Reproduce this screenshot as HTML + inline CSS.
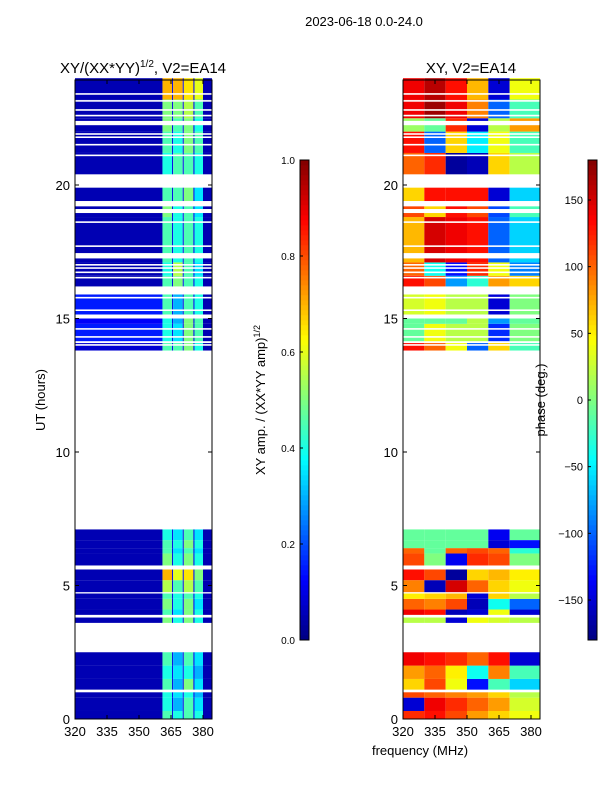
<!DOCTYPE html>
<html><head><meta charset="utf-8"><style>
body{margin:0;background:#fff;width:600px;height:800px;overflow:hidden;font-family:"Liberation Sans",sans-serif}
svg text{font-family:"Liberation Sans",sans-serif}
</style></head><body>
<svg id="fig" width="600" height="800" xmlns="http://www.w3.org/2000/svg">
<text x="364" y="26" font-size="13" text-anchor="middle">2023-06-18 0.0-24.0</text>
<text x="143" y="73" font-size="15" text-anchor="middle">XY/(XX*YY)<tspan font-size="10" dy="-6">1/2</tspan><tspan dy="6">, V2=EA14</tspan></text>
<text x="471" y="73" font-size="15" text-anchor="middle">XY, V2=EA14</text>
<text x="45" y="400" font-size="13" text-anchor="middle" transform="rotate(-90 45 400)">UT (hours)</text>
<text x="420" y="755" font-size="13" text-anchor="middle">frequency (MHz)</text>
<text x="265" y="400" font-size="13" text-anchor="middle" transform="rotate(-90 265 400)">XY amp. / (XX*YY amp)<tspan font-size="9" dy="-5">1/2</tspan></text>
<text x="545" y="400" font-size="13" text-anchor="middle" transform="rotate(-90 545 400)">phase (deg.)</text>
<g id="left"></g>
<g id="right"></g>
<g id="cb"></g>
<g id="axes"></g>
</svg>
<script>
// time segments [start hour, end hour]
const segStart=[0,0.3,0.8,1.1,1.5,2.0,3.6,3.9,4.1,4.5,4.75,5.2,5.75,6.2,6.4,6.7,13.8,14.15,14.8,15.15,16.2,16.6,17.1,18.8,19.4,20.3,21.2,22.0,22.5,23.2];
const segEnd=[0.3,0.8,1.0,1.5,2.0,2.5,3.8,4.1,4.5,4.7,5.2,5.6,6.2,6.4,6.7,7.1,14.1,14.8,15.0,15.9,16.6,17.1,18.8,19.2,20.0,21.2,22.0,22.5,23.2,24];
// phase bands (MHz edges) and values (deg)
const phaseBands=[320,330,340,350,360,370,384.2];
const phaseVals=[
[120,130,110,80,60,40],[-150,140,120,100,80,30],[110,100,90,80,60,20],[60,110,40,-130,-20,-60],
[80,100,50,-40,90,-20],[140,130,120,100,130,-150],[20,20,-150,40,30,20],[140,130,-160,-150,40,-150],
[100,90,110,-160,-40,-100],[50,60,70,-150,60,20],[90,-160,150,100,60,40],[130,110,-170,60,70,50],
[110,0,-140,120,110,0],[100,-10,100,110,100,-30],[-10,-10,-10,-10,-150,-130],[-10,-10,-10,-10,-140,-10],
[130,100,40,-100,60,-20],[-10,40,20,20,-120,0],[-10,-10,-10,20,-80,-10],[30,40,20,20,-150,0],
[130,110,-80,-30,80,60],[100,-40,-130,120,40,-90],[70,150,140,130,-100,-60],[110,60,130,110,-110,-20],
[60,130,130,130,-150,-60],[100,120,-170,-160,60,20],[130,-100,60,-50,40,-20],[10,-10,120,-150,20,80],
[140,170,140,90,-100,-20],[140,160,130,70,-150,40]];
// amplitude bands and values
const ampBands=[320,361,365.5,366,370.5,371,375.5,376,380,384.2];
const ampVals=[
[0.05,0.45,0.1,0.4,0.1,0.45,0.1,0.4,0.05],[0.05,0.4,0.1,0.3,0.1,0.45,0.1,0.35,0.05],[0.05,0.4,0.1,0.35,0.1,0.4,0.1,0.3,0.05],
[0.05,0.45,0.1,0.3,0.1,0.5,0.1,0.35,0.05],[0.05,0.4,0.1,0.35,0.1,0.4,0.1,0.3,0.05],[0.05,0.45,0.1,0.3,0.1,0.45,0.1,0.35,0.05],
[0.05,0.5,0.1,0.4,0.1,0.5,0.1,0.4,0.05],[0.05,0.45,0.1,0.35,0.1,0.5,0.1,0.4,0.05],[0.05,0.5,0.1,0.4,0.1,0.5,0.1,0.35,0.05],
[0.05,0.45,0.1,0.4,0.1,0.45,0.1,0.4,0.05],[0.05,0.55,0.1,0.45,0.1,0.55,0.1,0.45,0.05],[0.05,0.7,0.1,0.6,0.1,0.65,0.1,0.5,0.05],
[0.05,0.5,0.1,0.4,0.1,0.5,0.1,0.4,0.05],[0.05,0.45,0.1,0.35,0.1,0.45,0.1,0.35,0.05],[0.05,0.45,0.1,0.4,0.1,0.5,0.1,0.4,0.05],
[0.05,0.4,0.1,0.35,0.1,0.45,0.1,0.35,0.05],[0.08,0.45,0.1,0.45,0.1,0.5,0.1,0.4,0.05],[0.15,0.4,0.1,0.35,0.1,0.5,0.1,0.45,0.05],
[0.12,0.4,0.1,0.3,0.1,0.5,0.1,0.45,0.05],[0.15,0.45,0.1,0.3,0.1,0.45,0.1,0.4,0.05],[0.05,0.45,0.1,0.5,0.1,0.45,0.1,0.4,0.05],
[0.05,0.4,0.1,0.55,0.1,0.45,0.1,0.35,0.05],[0.05,0.45,0.1,0.4,0.1,0.45,0.1,0.4,0.05],[0.05,0.5,0.1,0.4,0.1,0.45,0.1,0.35,0.05],
[0.05,0.45,0.1,0.45,0.1,0.5,0.1,0.35,0.05],[0.05,0.4,0.1,0.45,0.1,0.45,0.1,0.4,0.05],[0.05,0.45,0.1,0.4,0.1,0.5,0.1,0.45,0.05],
[0.05,0.5,0.1,0.45,0.1,0.5,0.1,0.4,0.05],[0.05,0.5,0.1,0.5,0.1,0.55,0.1,0.45,0.05],[0.05,0.7,0.1,0.7,0.1,0.65,0.1,0.6,0.05]];
// flagged (white) time lines [start,end]
const flagStart=[23.38,23.12,22.78,22.57,22.24,21.88,21.76,21.48,21.08,20.22,19.9,19.25,18.95,18.58,17.68,17.25,16.98,16.86,16.7,16.5,16.0,15.75,15.28,14.58,14.28,14.08,13.98];
const flagEnd=[23.44,23.18,22.84,22.63,22.4,21.94,21.82,21.54,21.14,20.4,20.06,19.31,19.1,18.64,17.74,17.45,17.04,16.92,16.76,16.56,16.2,15.81,15.34,14.64,14.34,14.14,14.04];
const xTicks=[320,335,350,365,380];
const yTicks=[0,5,10,15,20];
const ampTicks=[0.0,0.2,0.4,0.6,0.8,1.0];
const phaseTicks=[-150,-100,-50,0,50,100,150];

const NS="http://www.w3.org/2000/svg";
function jet(v){v=Math.max(0,Math.min(1,v));
 const r=Math.max(0,Math.min(1,1.5-Math.abs(4*v-3))),g=Math.max(0,Math.min(1,1.5-Math.abs(4*v-2))),b=Math.max(0,Math.min(1,1.5-Math.abs(4*v-1)));
 return `rgb(${Math.round(r*255)},${Math.round(g*255)},${Math.round(b*255)})`;}
function mk(tag,attrs,parent){const e=document.createElementNS(NS,tag);for(const k in attrs)e.setAttribute(k,attrs[k]);parent.appendChild(e);return e;}
const Y0=719,PH=(719-185)/20;
function yS(h){return Y0-h*PH;}
function xS(x0,f){return x0+(f-320)*128/60;}
const left=document.getElementById('left'),right=document.getElementById('right'),axes=document.getElementById('axes'),cb=document.getElementById('cb');
const panels=[[75,left],[403,right]];
for(let i=0;i<segStart.length;i++){
 const y1=yS(segEnd[i]),y2=yS(segStart[i]);
 for(let j=0;j<ampBands.length-1;j++){
  const r=mk('rect',{x:xS(75,ampBands[j]),y:y1,width:xS(75,ampBands[j+1])-xS(75,ampBands[j]),height:y2-y1,fill:jet(ampVals[i][j])},left);
  
  
 }
 for(let j=0;j<phaseBands.length-1;j++){
  const r=mk('rect',{x:xS(403,phaseBands[j]),y:y1,width:xS(403,phaseBands[j+1])-xS(403,phaseBands[j]),height:y2-y1,fill:jet((phaseVals[i][j]+180)/360)},right);
  
  
 }
}
for(const [x0,g] of panels){
 for(let i=0;i<flagStart.length;i++){
  const r=mk('rect',{x:x0,y:yS(flagEnd[i]),width:137,height:yS(flagStart[i])-yS(flagEnd[i]),fill:'#fff'},g);
  
  
 }
 const fr=mk('rect',{x:x0,y:80,width:137,height:639,fill:'none',stroke:'#000','stroke-width':1},axes);
 
 
 for(const t of xTicks){const x=xS(x0,t);
  mk('line',{x1:x,x2:x,y1:719,y2:715,stroke:'#000'},axes);mk('line',{x1:x,x2:x,y1:80,y2:84,stroke:'#000'},axes);
  const tx=mk('text',{x:x,y:736,'font-size':13,'text-anchor':'middle'},axes);tx.textContent=t;
  
  }
 for(const t of yTicks){const y=yS(t);
  mk('line',{x1:x0,x2:x0+4,y1:y,y2:y,stroke:'#000'},axes);mk('line',{x1:x0+137,x2:x0+133,y1:y,y2:y,stroke:'#000'},axes);
  const tx=mk('text',{x:x0-5,y:y+5,'font-size':13,'text-anchor':'end'},axes);tx.textContent=t;
  
  }
}
// colorbars
for(let k=0;k<96;k++){const v=k/96;
 mk('rect',{x:300,y:640-(k+1)*5,width:9,height:5.3,fill:jet(v+0.005)},cb);
 mk('rect',{x:588,y:640-(k+1)*5,width:9,height:5.3,fill:jet(v+0.005)},cb);}
mk('rect',{x:300,y:160,width:9,height:480,fill:'none',stroke:'#000'},cb);
mk('rect',{x:588,y:160,width:9,height:480,fill:'none',stroke:'#000'},cb);
for(const t of ampTicks){const y=640-t*480;
 mk('line',{x1:300,x2:303,y1:y,y2:y,stroke:'#000'},cb);
 const tx=mk('text',{x:295,y:y+4,'font-size':10,'text-anchor':'end'},cb);tx.textContent=t.toFixed(1);
 
 }
for(const t of phaseTicks){const y=400-t*480/360;
 mk('line',{x1:588,x2:591,y1:y,y2:y,stroke:'#000'},cb);
 const tx=mk('text',{x:583,y:y+4,'font-size':11,'text-anchor':'end'},cb);tx.textContent=t<0?'\u2212'+(-t):t;
 
 }
</script>
</body></html>
